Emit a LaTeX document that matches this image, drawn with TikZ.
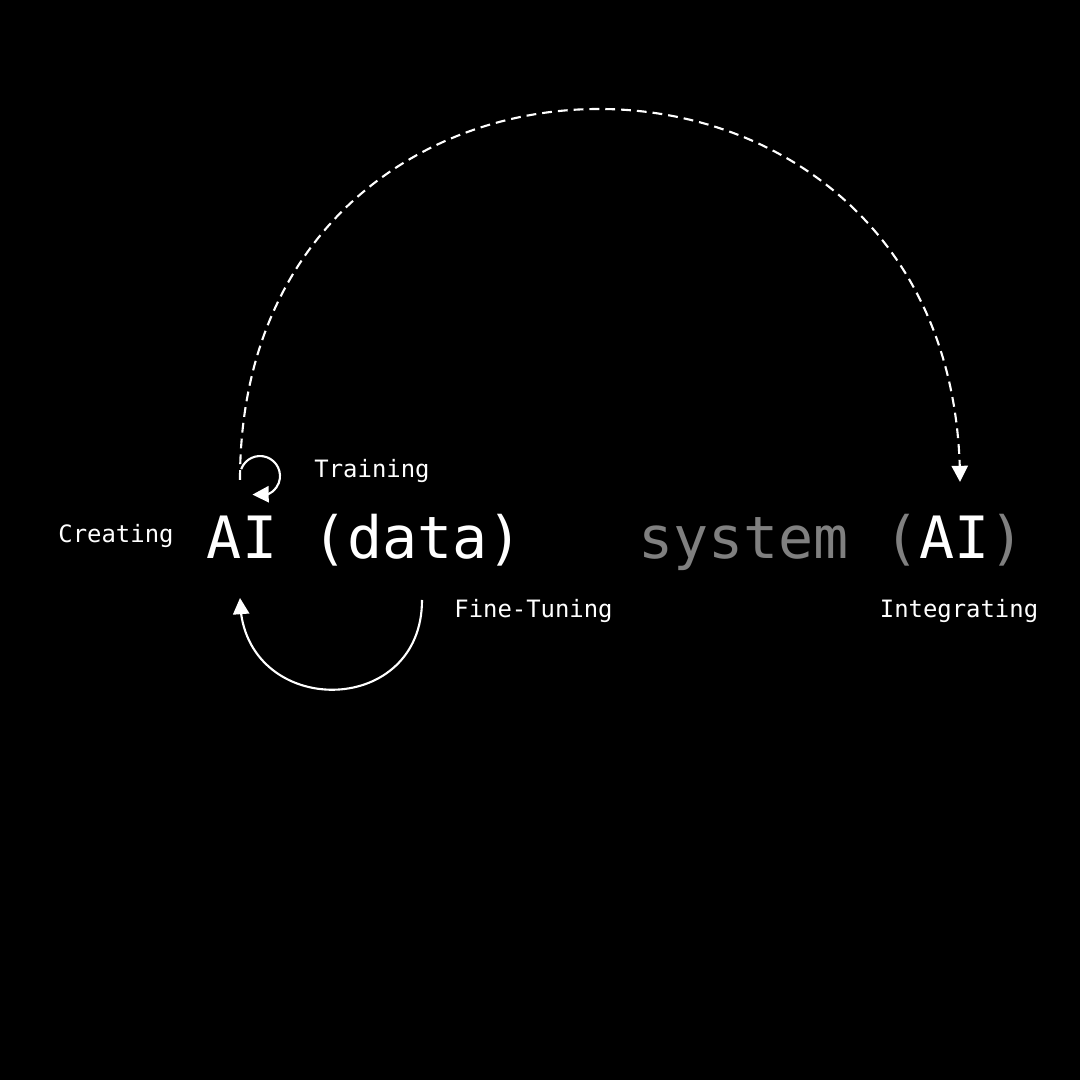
\documentclass[tikz,border=0pt]{standalone}
\usepackage{fontspec}
\setmonofont{DejaVu Sans Mono}
\usetikzlibrary{arrows.meta,bending}

\definecolor{dim}{HTML}{808080}
\tikzstyle{title} = [text=white, inner sep=0pt, anchor=base, font=\ttfamily\fontsize{16.6}{20}\selectfont]
\tikzstyle{tag} = [text=white, inner sep=0pt, anchor=base, font=\ttfamily\fontsize{6.8}{8}\selectfont]
\tikzstyle{jump} = [draw=white, line width=0.6pt, dash pattern=on 2.8pt off 1.7pt, ->]
\tikzstyle{cycleline} = [draw=white, line width=0.6pt, ->]

\begin{document}
\begin{tikzpicture}[>={Triangle[length=4.6pt,width=4.6pt]}]
  \useasboundingbox (0,0) rectangle (10.8,10.8);
  \fill[black] (0,0) rectangle (10.8,10.8);
  \node [title] (data) at (3.65,5.21) {AI (data)};
  \node [title] (system) at (8.315,5.21) {\textcolor{dim}{system (}AI\textcolor{dim}{)}};
  \node [tag] (creating) at (1.16,5.37) {Creating};
  \node [tag] (training) at (3.72,6.02) {Training};
  \node [tag] (finetuning) at (5.335,4.62) {Fine-Tuning};
  \node [tag] (integrating) at (9.59,4.62) {Integrating};
  \coordinate (dataAI) at (2.40,6.00);
  \coordinate (systemAI) at (9.60,5.98);
  \coordinate (train) at (2.412,6.108);
  \coordinate (ft) at (4.22,4.80);
  \coordinate (ftend) at (2.40,4.82);

  \draw [jump] (dataAI) to[out=90,in=90,distance=4.96cm] (systemAI);
  \draw [cycleline] (train) arc[start angle=160,end angle=-112,radius=0.2];
  \draw [cycleline] (ft) to[out=-90,in=-90,distance=1.21cm] (ftend);
\end{tikzpicture}
\end{document}
